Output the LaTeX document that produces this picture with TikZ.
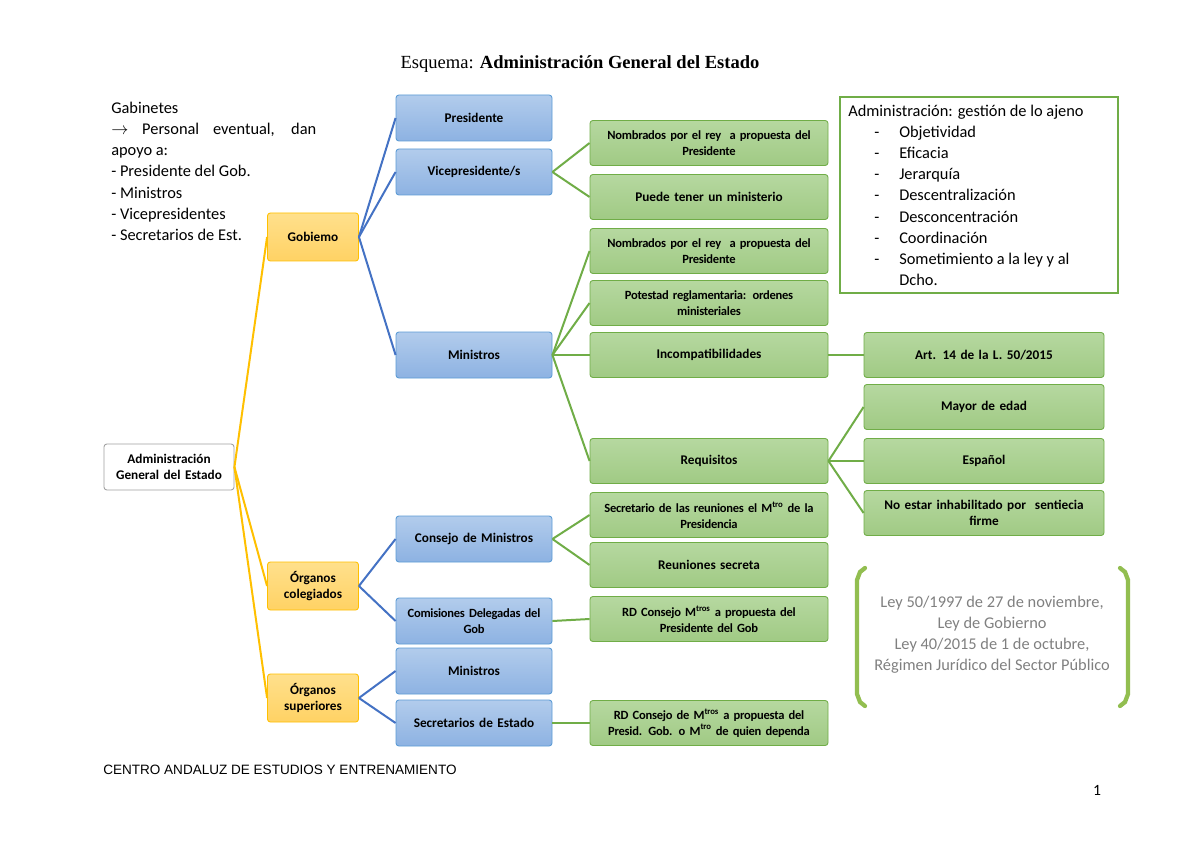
\documentclass[tikz,border=0pt]{standalone}
\usepackage{fontspec}
\setmainfont{Carlito}
\newfontfamily\titlefont{Liberation Serif}
\newfontfamily\footfont{Liberation Sans}
\begin{document}
\hyphenpenalty=10000 \exhyphenpenalty=10000
\begin{tikzpicture}[x=0.7017pt,y=-0.7017pt,
  box/.style={draw, rounded corners=2pt, line width=0.6pt, align=center, font=\fontsize{9.3}{10.8}\selectfont\bfseries, inner sep=1pt},
  blue/.style={box, draw={rgb,255:red,91;green,155;blue,213}, top color={rgb,255:red,178;green,204;blue,236}, bottom color={rgb,255:red,141;green,178;blue,226}, minimum width=156*0.7017pt, minimum height=46*0.7017pt, text width=152*0.7017pt},
  green/.style={box, draw={rgb,255:red,112;green,173;blue,71}, top color={rgb,255:red,182;green,216;blue,160}, bottom color={rgb,255:red,160;green,202;blue,132}, minimum width=238*0.7017pt, minimum height=45*0.7017pt, text width=234*0.7017pt},
  green2/.style={green, minimum width=240*0.7017pt, text width=236*0.7017pt},
  orange/.style={box, draw={rgb,255:red,255;green,192;blue,0}, top color={rgb,255:red,255;green,224;blue,140}, bottom color={rgb,255:red,255;green,210;blue,100}, minimum width=91*0.7017pt, minimum height=48*0.7017pt, text width=88*0.7017pt},
  tight/.style={font=\fontsize{8.8}{10.8}\selectfont\bfseries\addfontfeatures{LetterSpace=-2}},
  lb/.style={draw={rgb,255:red,68;green,114;blue,196}, line width=1.4pt},
  lg/.style={draw={rgb,255:red,112;green,173;blue,71}, line width=1.4pt},
  lo/.style={draw={rgb,255:red,255;green,192;blue,0}, line width=1.4pt},
]
\useasboundingbox (0,0) rectangle (1200,849);
\fill[white] (0,0) rectangle (1200,849);
\node (title) at (580,64) {\titlefont\fontsize{13}{15}\selectfont Esquema: \textbf{Administración General del Estado}};
\node[anchor=north west, text width=205*0.7017pt, align=justify, inner sep=0pt, font=\fontsize{11.5}{14.8}\selectfont] (gab) at (111,102) {Gabinetes\\ $\rightarrow$ Personal eventual, dan apoyo a:\\ - Presidente del Gob.\\ - Ministros\\ - Vicepresidentes\\ - Secretarios de Est.};

\node[box, draw={rgb,255:red,160;green,160;blue,160}, fill=white, minimum width=130*0.7017pt, minimum height=46*0.7017pt, text width=126*0.7017pt] (adm) at (169,467) {Administración\\General del Estado};
\node[orange] (gob) at (313,237) {Gobiemo};
\node[orange] (oc) at (313,586) {Órganos\\colegiados};
\node[orange] (os) at (313,698) {Órganos\\superiores};

\node[blue] (pres) at (474,118) {Presidente};
\node[blue] (vice) at (474,172) {Vicepresidente/s};
\node[blue] (min) at (474,355) {Ministros};
\node[blue] (cm) at (474,539) {Consejo de Ministros};
\node[blue, tight] (cd) at (474,621) {Comisiones Delegadas del\\Gob};
\node[blue] (min2) at (474,671) {Ministros};
\node[blue] (se) at (474,723) {Secretarios de Estado};

\node[green, tight] (n1) at (709,143) {Nombrados por el rey\ \ a propuesta del\\Presidente};
\node[green] (pt) at (709,197) {Puede tener un ministerio};
\node[green, tight] (n2) at (709,251) {Nombrados por el rey\ \ a propuesta del\\Presidente};
\node[green, tight] (pot) at (709,303) {Potestad reglamentaria: ordenes\\ministeriales};
\node[green] (inc) at (709,355) {Incompatibilidades};
\node[green] (req) at (709,461) {Requisitos};
\node[green, tight] (sec) at (709,515) {Secretario de las reuniones el M\textsuperscript{tro} de la\\Presidencia};
\node[green] (reu) at (709,565) {Reuniones secreta};
\node[green, tight] (rd1) at (709,619) {RD Consejo M\textsuperscript{tros} a propuesta del\\Presidente del Gob};
\node[green, tight] (rd2) at (709,723) {RD Consejo de M\textsuperscript{tros} a propuesta del\\Presid. Gob. o M\textsuperscript{tro} de quien dependa};

\node[green2] (art) at (984,355) {Art. 14 de la L. 50/2015};
\node[green2] (may) at (984,407) {Mayor de edad};
\node[green2] (esp) at (984,461) {Español};
\node[green2] (no) at (984,513) {No estar inhabilitado por\ \ sentiecia\\firme};

\draw[lo] (adm.east) -- (gob.west);
\draw[lo] (adm.east) -- (oc.west);
\draw[lo] (adm.east) -- (os.west);
\foreach \c in {pres,vice,min} \draw[lb] (gob.east) -- (\c.west);
\foreach \c in {cm,cd} \draw[lb] (oc.east) -- (\c.west);
\foreach \c in {min2,se} \draw[lb] (os.east) -- (\c.west);
\foreach \c in {n1,pt} \draw[lg] (vice.east) -- (\c.west);
\foreach \c in {n2,pot,inc,req} \draw[lg] (min.east) -- (\c.west);
\foreach \c in {sec,reu} \draw[lg] (cm.east) -- (\c.west);
\draw[lg] (cd.east) -- (rd1.west);
\draw[lg] (se.east) -- (rd2.west);
\draw[lg] (inc.east) -- (art.west);
\foreach \c in {may,esp,no} \draw[lg] (req.east) -- (\c.west);

\node[draw={rgb,255:red,112;green,173;blue,71}, line width=1.2pt, minimum width=278*0.7017pt, minimum height=196*0.7017pt, anchor=north west, inner sep=0pt] (adbox) at (839,96) {};
\node[anchor=north west, inner sep=0pt, font=\fontsize{11.5}{14.8}\selectfont, align=left] (adtxt) at (848,105) {Administración: gestión de lo ajeno};
\node[anchor=north west, inner sep=0pt, font=\fontsize{11.5}{14.8}\selectfont, align=left] (adlist) at (874,126) {%
-\hspace{14pt}Objetividad\\ -\hspace{14pt}Eficacia\\ -\hspace{14pt}Jerarquía\\ -\hspace{14pt}Descentralización\\ -\hspace{14pt}Desconcentración\\ -\hspace{14pt}Coordinación\\ -\hspace{14pt}Sometimiento a la ley y al\\ \phantom{-}\hspace{14pt}Dcho.};

\draw[draw={rgb,255:red,146;green,190;blue,80}, line width=3pt, line cap=round] (865,568) -- (860,572) -- (857,580) -- (857,694) -- (860,702) -- (865,706);
\draw[draw={rgb,255:red,146;green,190;blue,80}, line width=3pt, line cap=round] (1120,568) -- (1125,572) -- (1128,580) -- (1128,694) -- (1125,702) -- (1120,706);
\node[align=center, text=gray, font=\fontsize{11.5}{14.8}\selectfont] (ley) at (992,635) {Ley 50/1997 de 27 de noviembre,\\Ley de Gobierno\\Ley 40/2015 de 1 de octubre,\\Régimen Jurídico del Sector Público};

\node[anchor=west, inner sep=0pt, font=\footfont\fontsize{9.5}{12}\selectfont] (foot) at (103,770) {CENTRO ANDALUZ DE ESTUDIOS Y ENTRENAMIENTO};
\node[inner sep=0pt, font=\fontsize{11}{12}\selectfont] (pg) at (1097,790) {1};
\end{tikzpicture}
\end{document}
